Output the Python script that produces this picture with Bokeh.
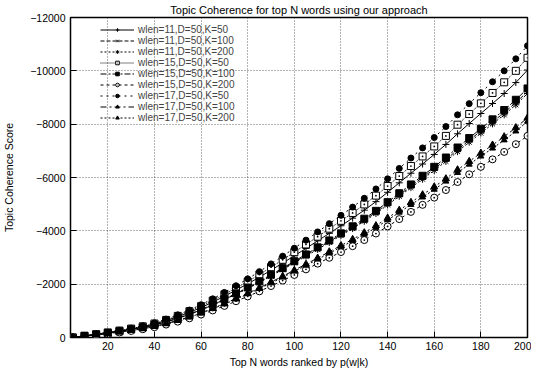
from bokeh.plotting import figure
from bokeh.models import Range1d, FixedTicker, Legend, LegendItem
from bokeh.embed import file_html
from bokeh.resources import INLINE

top_n = list(range(5, 205, 5))

w11_k50 = [0,-65,-120,-185,-245,-320,-405,-505,-630,-780,-940,-1125,-1325,-1545,-1775,-2015,-2260,-2525,-2790,-3065,-3340,-3625,-3905,-4190,-4475,-4775,-5095,-5445,-5800,-6160,-6505,-6865,-7240,-7640,-8025,-8400,-8775,-9150,-9560,-10030]
w11_k100 = [0,-60,-110,-170,-230,-295,-370,-465,-580,-715,-870,-1035,-1220,-1425,-1635,-1855,-2080,-2325,-2570,-2825,-3075,-3340,-3600,-3860,-4120,-4400,-4695,-5015,-5345,-5675,-5995,-6325,-6670,-7040,-7395,-7740,-8085,-8430,-8810,-9220]
w11_k200 = [0,-60,-110,-165,-225,-290,-365,-460,-575,-710,-860,-1025,-1210,-1410,-1620,-1835,-2060,-2305,-2545,-2800,-3050,-3305,-3565,-3825,-4085,-4360,-4650,-4970,-5295,-5620,-5935,-6265,-6605,-6970,-7325,-7665,-8010,-8350,-8725,-9150]
w15_k50 = [0,-65,-125,-190,-260,-335,-420,-525,-660,-810,-985,-1175,-1385,-1615,-1850,-2100,-2360,-2635,-2915,-3200,-3490,-3780,-4080,-4375,-4670,-4990,-5320,-5680,-6055,-6430,-6790,-7165,-7560,-7980,-8380,-8780,-9170,-9570,-10000,-10490]
w15_k100 = [0,-60,-110,-170,-230,-300,-375,-470,-590,-725,-880,-1050,-1235,-1440,-1655,-1875,-2105,-2355,-2600,-2860,-3115,-3380,-3640,-3905,-4170,-4455,-4750,-5075,-5410,-5740,-6065,-6400,-6750,-7125,-7480,-7830,-8180,-8530,-8915,-9340]
w15_k200 = [0,-50,-90,-140,-190,-245,-310,-385,-485,-595,-720,-860,-1015,-1185,-1360,-1540,-1730,-1930,-2135,-2345,-2555,-2770,-2990,-3205,-3425,-3655,-3900,-4165,-4440,-4710,-4975,-5245,-5530,-5830,-6120,-6400,-6680,-6960,-7250,-7560]
w17_k50 = [0,-70,-130,-200,-270,-350,-440,-550,-690,-850,-1030,-1230,-1450,-1690,-1940,-2200,-2470,-2760,-3050,-3350,-3650,-3960,-4270,-4580,-4890,-5220,-5570,-5950,-6340,-6730,-7110,-7500,-7910,-8350,-8770,-9180,-9590,-10000,-10450,-10940]
w17_k100 = [0,-55,-100,-150,-205,-265,-330,-415,-520,-640,-775,-925,-1090,-1275,-1460,-1655,-1860,-2080,-2295,-2525,-2750,-2980,-3215,-3450,-3680,-3930,-4195,-4480,-4775,-5070,-5355,-5650,-5955,-6290,-6605,-6915,-7220,-7530,-7870,-8240]
w17_k200 = [0,-50,-95,-150,-200,-260,-325,-405,-510,-630,-760,-910,-1075,-1250,-1435,-1630,-1830,-2040,-2255,-2480,-2700,-2930,-3160,-3390,-3620,-3865,-4120,-4405,-4690,-4980,-5260,-5550,-5855,-6180,-6490,-6795,-7095,-7400,-7735,-8100]

labels = ["wlen=11,D=50,K=50", "wlen=11,D=50,K=100", "wlen=11,D=50,K=200",
          "wlen=15,D=50,K=50", "wlen=15,D=50,K=100", "wlen=15,D=50,K=200",
          "wlen=17,D=50,K=50", "wlen=17,D=50,K=100", "wlen=17,D=50,K=200"]
series = [w11_k50, w11_k100, w11_k200, w15_k50, w15_k100, w15_k200, w17_k50, w17_k100, w17_k200]

x_ticks = [20, 40, 60, 80, 100, 120, 140, 160, 180, 200]
y_ticks = [0, -2000, -4000, -6000, -8000, -10000, -12000]

# style: (dash, marker, fill, size)
styles = [
    ("solid", "cross", "black", 7),
    ("4 2", "x", "black", 6),
    ("2 2", "asterisk", "black", 7),
    ("1 1", "square_dot", "white", 7),
    ("6 2 2 2", "square", "black", 7),
    ("3 3", "circle_dot", "white", 7),
    ("2 4", "circle", "black", 6),
    ("6 3 2 3", "triangle", "black", 7),
    ("2 2", "triangle", "black", 6),
]

FONT = "Liberation Sans"
FRAME_H = 320

p = figure(frame_width=457, frame_height=FRAME_H, output_backend="svg", toolbar_location=None,
           x_range=Range1d(4, 200), y_range=Range1d(0, -12000),
           min_border_left=64, min_border_right=4, min_border_bottom=0, min_border_top=0,
           title="Topic Coherence for top N words using our approach")
p.title.align = "center"
p.title.text_font = FONT
p.title.text_font_size = "11px"
p.title.text_font_style = "normal"
p.title.text_color = "black"
p.title.offset = 0
p.title.standoff = 3

p.outline_line_color = "black"
p.outline_line_width = 1.5
p.outline_line_alpha = 1

for ax in [p.xaxis[0], p.yaxis[0]]:
    ax.axis_line_color = None
    ax.major_tick_in = 6
    ax.major_tick_out = 0
    ax.minor_tick_line_color = None
    ax.major_label_text_font = FONT
    ax.major_label_text_font_size = "10.5px"
    ax.major_label_text_color = "black"
    ax.axis_label_text_font = FONT
    ax.axis_label_text_font_size = "10.5px"
    ax.axis_label_text_font_style = "normal"
    ax.axis_label_text_color = "black"
    ax.major_tick_line_color = "black"

p.xaxis[0].ticker = FixedTicker(ticks=x_ticks)
p.yaxis[0].ticker = FixedTicker(ticks=y_ticks)
p.xaxis[0].axis_label = "Top N words ranked by p(w|k)"
p.yaxis[0].axis_label = "Topic Coherence Score"
p.xaxis[0].major_label_standoff = 4
p.yaxis[0].major_label_standoff = 5
p.xaxis[0].axis_label_standoff = 3
p.yaxis[0].axis_label_standoff = 12

p.xgrid.ticker = FixedTicker(ticks=x_ticks[:-1])
p.ygrid.ticker = FixedTicker(ticks=y_ticks[1:-1])
for g in [p.xgrid[0], p.ygrid[0]]:
    g.grid_line_color = "black"
    g.grid_line_alpha = 0.6
    g.grid_line_dash = "1 2"
    g.grid_line_width = 1

items = []
for lab, ys, (dash, marker, fill, size) in zip(labels, series, styles):
    r1 = p.line(top_n, ys, line_color="black", line_width=1, line_dash=dash)
    r2 = p.scatter(top_n, ys, marker=marker, size=size, line_color="black",
                   fill_color=fill, line_width=1)
    items.append(LegendItem(label=lab, renderers=[r1, r2]))

leg = Legend(items=items, location=(30, FRAME_H - 106))
leg.border_line_color = None
leg.background_fill_alpha = 0
leg.label_text_font = FONT
leg.label_text_font_size = "10px"
leg.label_height = 9
leg.glyph_height = 9
leg.glyph_width = 34
leg.spacing = -2
leg.padding = 0
leg.margin = 0
leg.label_standoff = 4
p.add_layout(leg)

open("out.html", "w").write(file_html(p, INLINE))
